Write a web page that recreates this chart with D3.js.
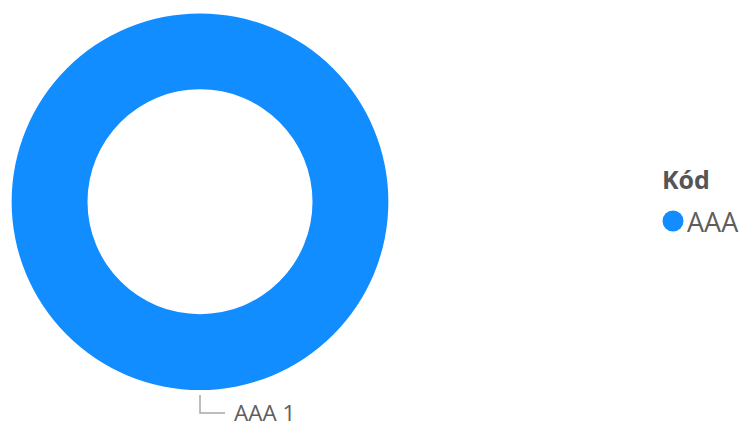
<!DOCTYPE html>
<html><head><meta charset="utf-8">
<script src="https://cdn.jsdelivr.net/npm/d3@7"></script>
<style>html,body{margin:0;padding:0;background:#fff;}svg{display:block;}</style>
</head><body>
<svg id="chart" width="744" height="424"></svg>
<script>
const categories = ["AAA"];
const values = [1];
const colors = ["#118DFF"];
const legendTitle = "Kód";

const svg = d3.select("#chart");
const cx = 200, cy = 201.7, rOuter = 188.3, rInner = 112.5;
const font = "'Open Sans', 'Noto Sans', sans-serif";

const pie = d3.pie().sort(null).value(d => d.value);
const data = categories.map((c, i) => ({ name: c, value: values[i] }));
const arcs = pie(data);
const arc = d3.arc().innerRadius(rInner).outerRadius(rOuter);
const color = d3.scaleOrdinal().domain(categories).range(colors);

const g = svg.append("g").attr("transform", `translate(${cx},${cy})`);
g.selectAll("path").data(arcs).enter().append("path")
  .attr("d", arc).attr("fill", d => color(d.data.name));

// label with leader line
arcs.forEach(a => {
  const mid = (a.startAngle + a.endAngle) / 2;
  const ax = Math.sin(mid), ay = -Math.cos(mid);
  const x0 = ax * (rOuter + 5), y0 = ay * (rOuter + 5);
  const x1 = ax * (rOuter + 23), y1 = ay * (rOuter + 23);
  g.append("polyline")
    .attr("points", `${x0},${y0} ${x1},${y1} ${x1 + 25},${y1}`)
    .attr("fill", "none").attr("stroke", "#A8A8A8").attr("stroke-width", 1.5);
  g.append("text").attr("x", x1 + 34).attr("y", y1 + 8.5)
    .attr("font-family", font).attr("font-size", 22.5).attr("fill", "#605E5C")
    .text(`${a.data.name} ${d3.format(",")(a.data.value)}`);
});

// legend
svg.append("text").attr("x", 662).attr("y", 188.5)
  .attr("font-family", font).attr("font-size", 25).attr("font-weight", 700)
  .attr("fill", "#555555").text(legendTitle);
const lg = svg.selectAll("g.leg").data(categories).enter().append("g")
  .attr("transform", (d, i) => `translate(673,${221 + i * 34})`);
lg.append("circle").attr("r", 10.5).attr("fill", d => color(d));
lg.append("text").attr("x", 14).attr("y", 10.5)
  .attr("font-family", font).attr("font-size", 27).attr("fill", "#605E5C").text(d => d);
</script>
</body></html>
